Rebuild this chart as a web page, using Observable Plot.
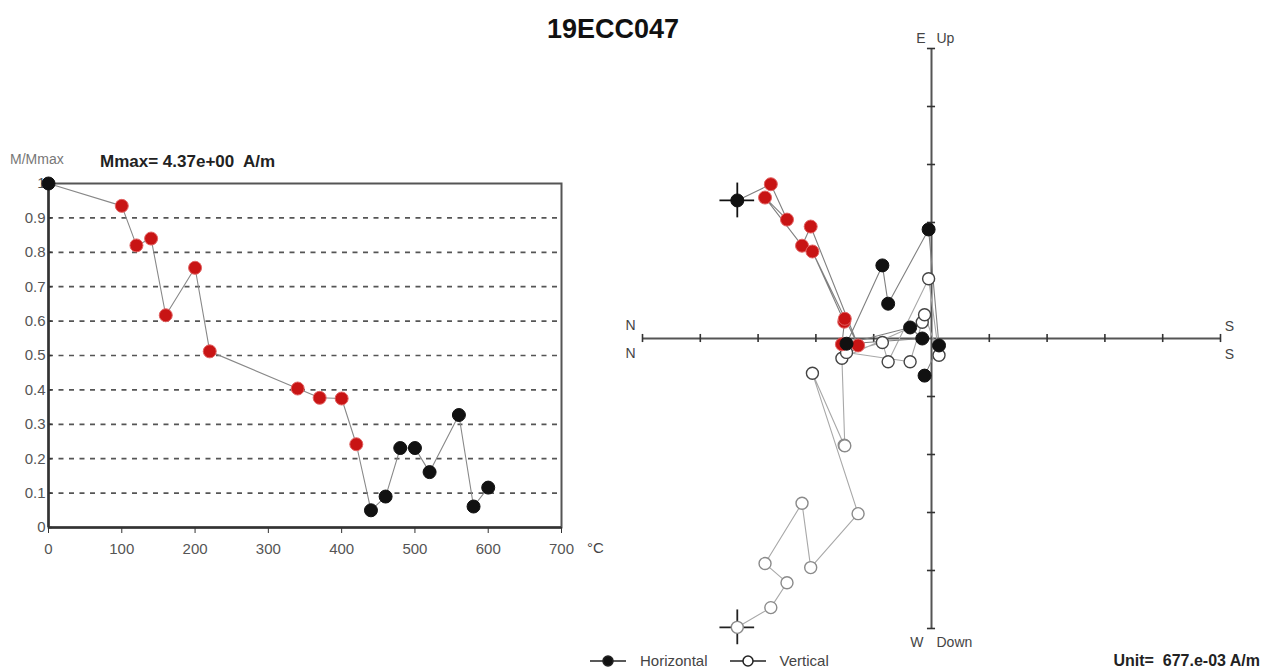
<!DOCTYPE html>
<html>
<head>
<meta charset="utf-8">
<script src="https://cdn.jsdelivr.net/npm/d3@7"></script>
<script src="https://cdn.jsdelivr.net/npm/@observablehq/plot@0.6"></script>
<style>
  body { margin: 0; background: #fff; font-family: "Liberation Sans", Arial, sans-serif; }
  #page { position: relative; width: 1268px; height: 670px; overflow: hidden; background: #fff; }
  .abs { position: absolute; white-space: nowrap; }
  #title { left: 613px; top: 14px; transform: translateX(-50%); font-size: 27px; font-weight: bold; color: #111; }
  #ylab { left: 10px; top: 151px; font-size: 14px; color: #777; }
  #mmax { left: 100px; top: 152px; font-size: 17px; font-weight: bold; color: #222; }
  #degc { left: 587px; top: 539px; font-size: 15px; color: #444; }
  #unit { right: 8px; top: 652px; font-size: 16px; font-weight: bold; color: #222; }
  #leftplot { left: 0; top: 150px; }
  #rightplot { left: 600px; top: 0; }
  #legend { left: 588px; top: 652px; font-size: 15px; color: #444; display: flex; align-items: center; }
  #legend svg { display: block; }
</style>
</head>
<body>
<div id="page">
  <div class="abs" id="rightplot"></div>
  <div class="abs" id="leftplot"></div>
  <div class="abs" id="title"></div>
  <div class="abs" id="ylab"></div>
  <div class="abs" id="mmax"></div>
  <div class="abs" id="degc"></div>
  <div class="abs" id="unit"></div>
  <div class="abs" id="legend"></div>
</div>
<script>
// ---------- texts ----------
const titleText = "19ECC047";
const yLabelText = "M/Mmax";
const mmaxText = "Mmax= 4.37e+00\u00a0 A/m";
const tempUnitText = "°C";
const unitText = "Unit=\u00a0 677.e-03 A/m";
const legendLabels = ["Horizontal", "Vertical"];

// ---------- demagnetisation steps (°C) ----------
const temps = [0, 100, 120, 140, 160, 200, 220, 340, 370, 400, 420, 440, 460, 480, 500, 520, 560, 580, 600];
// normalised intensity M/Mmax
const mNorm = [1.0, 0.935, 0.82, 0.84, 0.617, 0.755, 0.512, 0.404, 0.377, 0.375, 0.242, 0.05, 0.09, 0.231, 0.231, 0.161, 0.327, 0.061, 0.116];
// steps drawn in red
const fitSteps = [100, 120, 140, 160, 200, 220, 340, 370, 400, 420];

// Zijderveld components in "Unit" multiples (677e-03 A/m)
// ns: N-S axis (N to the left), ew: E (up on horizontal projection), ud: Up (vertical projection)
const ns = [-3.36, -2.78, -2.50, -2.88, -2.24, -2.09, -1.27, -2.06, -1.51, -1.50, -1.55, -0.16, -0.37, -1.47, -0.85, -0.75, -0.05, 0.13, -0.12];
const ew = [2.38, 2.66, 2.05, 2.43, 1.60, 1.93, -0.12, 1.50, 0.29, 0.34, -0.10, 0.00, 0.19, -0.09, 1.26, 0.60, 1.88, -0.12, -0.64];
const ud = [-4.98, -4.64, -4.21, -3.88, -2.84, -3.95, -3.02, -0.60, -1.84, -1.85, -0.34, 0.28, -0.40, -0.24, -0.07, -0.40, 1.03, -0.29, 0.41];

// ---------- ticks ----------
const xTicks = [0, 100, 200, 300, 400, 500, 600, 700];
const yTicks = [0, 0.1, 0.2, 0.3, 0.4, 0.5, 0.6, 0.7, 0.8, 0.9, 1];
const gridLines = [0.1, 0.2, 0.3, 0.4, 0.5, 0.6, 0.7, 0.8, 0.9];
const zTicks = [-5, -4, -3, -2, -1, 1, 2, 3, 4, 5];
const axisEnds = { ns: [-5, 5], ud: [-5, 5] };

const RED = "#c81414";
const rows = temps.map((t, i) => ({ t, m: mNorm[i], ns: ns[i], ew: ew[i], ud: ud[i], red: fitSteps.includes(t) }));
const nrm = [rows[0]];

document.getElementById("title").textContent = titleText;
document.getElementById("ylab").textContent = yLabelText;
document.getElementById("mmax").textContent = mmaxText;
document.getElementById("degc").textContent = tempUnitText;
document.getElementById("unit").textContent = unitText;

const font = "'Liberation Sans', Arial, sans-serif";

// ---------- left: intensity decay ----------
const left = Plot.plot({
  width: 600, height: 420,
  marginLeft: 48, marginRight: 39, marginTop: 33, marginBottom: 43,
  x: { domain: [0, 700] },
  y: { domain: [0, 1] },
  color: { type: "identity" },
  style: { fontFamily: font, fontSize: "15px", color: "#555", background: "transparent" },
  marks: [
    Plot.ruleY(gridLines, { stroke: "#555", strokeWidth: 1.7, strokeDasharray: "5,5.5" }),
    Plot.frame({ stroke: "#555", strokeWidth: 2 }),
    Plot.ruleX([0], { stroke: "#333", strokeWidth: 2.5 }),
    Plot.ruleY([0], { stroke: "#333", strokeWidth: 2.5 }),
    Plot.axisX({ ticks: xTicks, tickSize: 6, tickPadding: 10, label: null, tickFormat: d => String(d), stroke: "#333" }),
    Plot.axisY({ ticks: yTicks, tickSize: 0, tickPadding: 3, label: null, tickFormat: d => String(d) }),
    Plot.ruleY(yTicks, { x1: 0, x2: 5, stroke: "#333", strokeWidth: 1.5 }),
    Plot.line(rows, { x: "t", y: "m", stroke: "#888", strokeWidth: 1.1 }),
    Plot.dot(rows, { x: "t", y: "m", r: 6.5, fill: d => d.red ? RED : "#111", stroke: d => d.red ? "#e26262" : "#111", strokeWidth: 1 })
  ]
});
document.getElementById("leftplot").append(left);

// ---------- right: Zijderveld diagram ----------
const lab = (x, y, text, dx, dy, anchor) =>
  Plot.text([{ x, y, text }], { x: "x", y: "y", text: "text", dx, dy, textAnchor: anchor, fontSize: 14, fill: "#444" });

const right = Plot.plot({
  width: 668, height: 670,
  margin: 0,
  x: { domain: [-5, 5], range: [42, 620], axis: null },
  y: { domain: [-5, 5], range: [628, 48], axis: null },
  color: { type: "identity" },
  style: { fontFamily: font, background: "transparent" },
  marks: [
    Plot.ruleY([0], { x1: axisEnds.ns[0], x2: axisEnds.ns[1], stroke: "#555", strokeWidth: 2 }),
    Plot.ruleX([0], { y1: axisEnds.ud[0], y2: axisEnds.ud[1], stroke: "#555", strokeWidth: 2 }),
    Plot.ruleX(zTicks, { x: d => d, y1: -0.07, y2: 0.07, stroke: "#333", strokeWidth: 1.6 }),
    Plot.ruleY(zTicks, { y: d => d, x1: -0.07, x2: 0.07, stroke: "#333", strokeWidth: 1.6 }),
    // vertical projection path
    Plot.line(rows, { x: "ns", y: "ud", stroke: "#a8a8a8", strokeWidth: 1.1 }),
    // horizontal projection path
    Plot.line(rows, { x: "ns", y: "ew", stroke: "#808080", strokeWidth: 1.1 }),
    // NRM crosses
    Plot.ruleX(nrm, { x: "ns", y1: d => d.ud - 0.3, y2: d => d.ud + 0.3, stroke: "#222", strokeWidth: 1.8 }),
    Plot.ruleY(nrm, { y: "ud", x1: d => d.ns - 0.3, x2: d => d.ns + 0.3, stroke: "#222", strokeWidth: 1.8 }),
    Plot.ruleX(nrm, { x: "ns", y1: d => d.ew - 0.3, y2: d => d.ew + 0.3, stroke: "#111", strokeWidth: 1.8 }),
    Plot.ruleY(nrm, { y: "ew", x1: d => d.ns - 0.3, x2: d => d.ns + 0.3, stroke: "#111", strokeWidth: 1.8 }),
    Plot.dot(rows, { x: "ns", y: "ud", r: 6, fill: "white", stroke: d => d.ud < -1.5 ? "#8a8a8a" : "#444", strokeWidth: 1.4 }),
    Plot.dot(rows, { x: "ns", y: "ew", r: 6.5, fill: d => d.red ? RED : "#111", stroke: d => d.red ? "#e26262" : "#111", strokeWidth: 1 }),
    lab(0, 5, "E", -6, -10, "end"),
    lab(0, 5, "Up", 5, -10, "start"),
    lab(0, -5, "W", -8, 14, "end"),
    lab(0, -5, "Down", 5, 14, "start"),
    lab(-5, 0, "N", -12, -13, "middle"),
    lab(-5, 0, "N", -12, 15, "middle"),
    lab(5, 0, "S", 9, -12, "middle"),
    lab(5, 0, "S", 9, 16, "middle")
  ]
});
document.getElementById("rightplot").append(right);

// ---------- legend ----------
const legend = document.getElementById("legend");
function glyph(filled) {
  const svgNS = "http://www.w3.org/2000/svg";
  const s = document.createElementNS(svgNS, "svg");
  s.setAttribute("width", 40); s.setAttribute("height", 16);
  const l = document.createElementNS(svgNS, "line");
  l.setAttribute("x1", 2); l.setAttribute("x2", 38); l.setAttribute("y1", 8); l.setAttribute("y2", 8);
  l.setAttribute("stroke", "#222"); l.setAttribute("stroke-width", 1.5);
  const c = document.createElementNS(svgNS, "circle");
  c.setAttribute("cx", 20); c.setAttribute("cy", 8); c.setAttribute("r", 5);
  c.setAttribute("fill", filled ? "#111" : "#fff"); c.setAttribute("stroke", "#222"); c.setAttribute("stroke-width", 1.5);
  s.append(l, c);
  return s;
}
legendLabels.forEach((txt, i) => {
  const g = glyph(i === 0);
  g.style.marginLeft = i === 0 ? "0px" : "20px";
  g.style.marginRight = "12px";
  const span = document.createElement("span");
  span.textContent = txt;
  legend.append(g, span);
});
</script>
</body>
</html>
